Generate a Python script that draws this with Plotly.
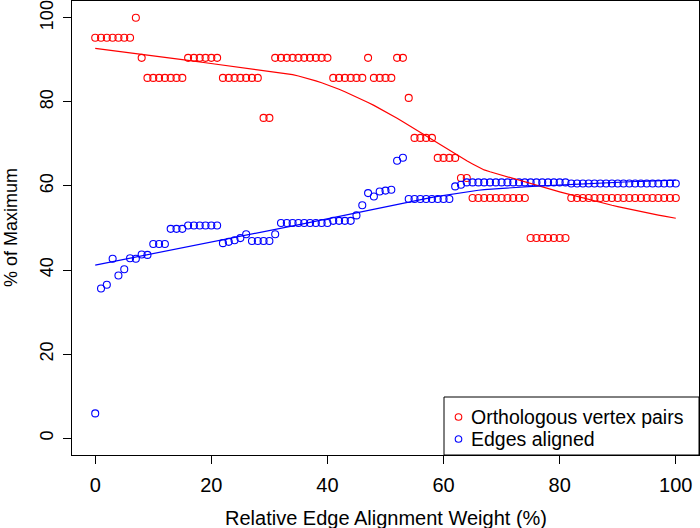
import numpy as np
import plotly.graph_objects as go

# ---------------- data ----------------
weight_pct = [0, 1, 2, 3, 4, 5, 6, 7, 8, 9, 10, 11, 12, 13, 14, 15, 16, 17, 18, 19, 20,
              21, 22, 23, 24, 25, 26, 27, 28, 29, 30, 31, 32, 33, 34, 35, 36, 37, 38, 39, 40,
              41, 42, 43, 44, 45, 46, 47, 48, 49, 50, 51, 52, 53, 54, 55, 56, 57, 58, 59, 60,
              61, 62, 63, 64, 65, 66, 67, 68, 69, 70, 71, 72, 73, 74, 75, 76, 77, 78, 79, 80,
              81, 82, 83, 84, 85, 86, 87, 88, 89, 90, 91, 92, 93, 94, 95, 96, 97, 98, 99, 100]

orthologous_pairs = [
    95.24, 95.24, 95.24, 95.24, 95.24, 95.24, 95.24, 100.0, 90.48, 85.71,
    85.71, 85.71, 85.71, 85.71, 85.71, 85.71, 90.48, 90.48, 90.48, 90.48,
    90.48, 90.48, 85.71, 85.71, 85.71, 85.71, 85.71, 85.71, 85.71, 76.19,
    76.19, 90.48, 90.48, 90.48, 90.48, 90.48, 90.48, 90.48, 90.48, 90.48,
    90.48, 85.71, 85.71, 85.71, 85.71, 85.71, 85.71, 90.48, 85.71, 85.71,
    85.71, 85.71, 90.48, 90.48, 80.95, 71.43, 71.43, 71.43, 71.43, 66.67,
    66.67, 66.67, 66.67, 61.90, 61.90, 57.14, 57.14, 57.14, 57.14, 57.14,
    57.14, 57.14, 57.14, 57.14, 57.14, 47.62, 47.62, 47.62, 47.62, 47.62,
    47.62, 47.62, 57.14, 57.14, 57.14, 57.14, 57.14, 57.14, 57.14, 57.14,
    57.14, 57.14, 57.14, 57.14, 57.14, 57.14, 57.14, 57.14, 57.14, 57.14,
    57.14]

edges_aligned = [
    5.9, 35.6, 36.5, 42.7, 38.7, 40.2, 42.8, 42.7, 43.7, 43.6,
    46.2, 46.2, 46.2, 49.8, 49.8, 49.8, 50.6, 50.6, 50.6, 50.6,
    50.6, 50.6, 46.4, 46.7, 47.1, 47.6, 48.5, 46.9, 46.9, 46.9,
    46.9, 48.5, 51.2, 51.2, 51.2, 51.2, 51.2, 51.2, 51.2, 51.2,
    51.2, 51.7, 51.7, 51.7, 51.7, 53.0, 55.4, 58.3, 57.5, 58.7,
    58.9, 59.1, 66.0, 66.7, 56.9, 56.9, 56.9, 56.9, 56.9, 56.9,
    56.9, 56.9, 59.9, 60.3, 60.85, 60.85, 60.85, 60.85, 60.85, 60.85,
    60.85, 60.85, 60.85, 60.85, 60.85, 60.85, 60.85, 60.85, 60.85, 60.85,
    60.85, 60.85, 60.6, 60.6, 60.6, 60.6, 60.6, 60.6, 60.6, 60.6,
    60.6, 60.6, 60.6, 60.6, 60.6, 60.6, 60.6, 60.6, 60.6, 60.6,
    60.6]

series_names = ["Orthologous vertex pairs", "Edges aligned"]
tick_values = [0, 20, 40, 60, 80, 100]
x_title = "Relative Edge Alignment Weight (%)"
y_title = "% of Maximum"


# ------------- R-style lowess (f = 2/3, iter = 3) -------------
def r_lowess(x, y, f=2 / 3, iters=3):
    x = np.asarray(x, float)
    y = np.asarray(y, float)
    order = np.argsort(x, kind="stable")
    x, y = x[order], y[order]
    n = len(x)
    ns = max(min(int(f * n + 1e-7), n), 2)
    rw = np.ones(n)
    ys = np.zeros(n)
    rng = x[-1] - x[0]
    for it in range(iters + 1):
        nleft, nright = 0, ns - 1
        for i in range(n):
            while nright < n - 1:
                d1 = x[i] - x[nleft]
                d2 = x[nright + 1] - x[i]
                if d1 <= d2:
                    break
                nleft += 1
                nright += 1
            xs = x[i]
            h = max(xs - x[nleft], x[nright] - xs)
            h9, h1 = 0.999 * h, 0.001 * h
            w = np.zeros(n)
            a = 0.0
            j = nleft
            while j < n:
                r = abs(x[j] - xs)
                if r <= h9:
                    w[j] = 1.0 if r <= h1 else (1 - (r / h) ** 3) ** 3
                    if it > 0:
                        w[j] *= rw[j]
                    a += w[j]
                elif x[j] > xs:
                    break
                j += 1
            nrt = j - 1
            if a <= 0:
                ys[i] = y[i]
                continue
            idx = slice(nleft, nrt + 1)
            w[idx] /= a
            if h > 0:
                aa = np.sum(w[idx] * x[idx])
                b = xs - aa
                c = np.sum(w[idx] * (x[idx] - aa) ** 2)
                if np.sqrt(c) > 0.001 * rng:
                    b /= c
                    w[idx] = w[idx] * (b * (x[idx] - aa) + 1)
            ys[i] = np.sum(w[idx] * y[idx])
        if it >= iters:
            break
        ar = np.abs(y - ys)
        sc = np.mean(ar)
        cmad = 6 * np.median(ar)
        if cmad < 1e-7 * sc:
            break
        c9, c1 = 0.999 * cmad, 0.001 * cmad
        rw = np.where(ar <= c1, 1.0,
                      np.where(ar <= c9, (1 - (ar / cmad) ** 2) ** 2, 0.0))
    return x, ys


RED = "#FF0000"
BLUE = "#0000FF"
FONT = "Liberation Sans, Arial, Helvetica, sans-serif"
H_SIZE = 20     # horizontal text
LEG_SIZE = 19.5  # legend text
V_SIZE = 18     # rotated text

W, H = 700, 528
M_L, M_R, M_T, M_B = 72, 1, 1, 73
PW, PH = W - M_L - M_R, H - M_T - M_B


def px_x(px):
    return (px - M_L) / PW


def px_y(py):
    return (H - M_B - py) / PH


fig = go.Figure()
colors = [RED, BLUE]
series = [orthologous_pairs, edges_aligned]
for yvals, color, name in zip(series, colors, series_names):
    fig.add_trace(go.Scatter(
        x=weight_pct, y=yvals, mode="markers", name=name, showlegend=False,
        marker=dict(symbol="circle-open", size=7, color=color,
                    line=dict(width=1.1, color=color)),
    ))
for yvals, color in zip(series, colors):
    lx, ly = r_lowess(weight_pct, yvals)
    fig.add_trace(go.Scatter(
        x=lx, y=ly, mode="lines", showlegend=False, hoverinfo="skip",
        line=dict(color=color, width=1.2),
    ))

axis_common = dict(
    showgrid=False, zeroline=False, showline=True, mirror=True,
    linecolor="black", linewidth=1, ticks="outside", ticklen=8,
    tickwidth=1, tickcolor="black", tickvals=tick_values,
    ticklabeloverflow="allow",
)
fig.update_xaxes(range=[-4, 104], ticklabelstandoff=4,
                 tickfont=dict(family=FONT, size=H_SIZE, color="black"),
                 **axis_common)
fig.update_yaxes(range=[-4, 104], tickangle=-90, ticklabelstandoff=3,
                 tickfont=dict(family=FONT, size=V_SIZE, color="black"),
                 **axis_common)

# legend box (R style, bottom-right, touching the frame)
row_y = [417, 439]
shapes = [dict(type="rect", xref="paper", yref="paper",
               x0=px_x(444), x1=1.0, y0=0.0, y1=px_y(397),
               line=dict(color="black", width=1), fillcolor="white", layer="above")]
annotations = []
for cy, name, color in zip(row_y, series_names, colors):
    shapes.append(dict(type="circle", xref="paper", yref="paper",
                       xsizemode="pixel", ysizemode="pixel",
                       xanchor=px_x(458.5), yanchor=px_y(cy),
                       x0=-3.3, x1=3.3, y0=-3.3, y1=3.3,
                       line=dict(color=color, width=1.1), layer="above"))
    annotations.append(dict(text=name, xref="paper", yref="paper",
                            x=px_x(470), y=px_y(cy), xanchor="left", yanchor="middle",
                            showarrow=False, borderpad=0,
                            font=dict(family=FONT, size=LEG_SIZE, color="black")))

annotations += [
    dict(text=x_title, xref="paper", yref="paper", x=0.5, y=0,
         xanchor="center", yanchor="middle", yshift=-63, showarrow=False,
         font=dict(family=FONT, size=H_SIZE, color="black")),
    dict(text=y_title, xref="paper", yref="paper", x=0, y=0.5,
         xanchor="center", yanchor="middle", xshift=-61, textangle=-90,
         showarrow=False, font=dict(family=FONT, size=V_SIZE, color="black")),
]

fig.update_layout(
    width=W, height=H,
    margin=dict(l=M_L, r=M_R, t=M_T, b=M_B),
    paper_bgcolor="white", plot_bgcolor="white",
    font=dict(family=FONT, size=V_SIZE, color="black"),
    showlegend=False,
    shapes=shapes,
    annotations=annotations,
)

fig.write_html("out.html")
